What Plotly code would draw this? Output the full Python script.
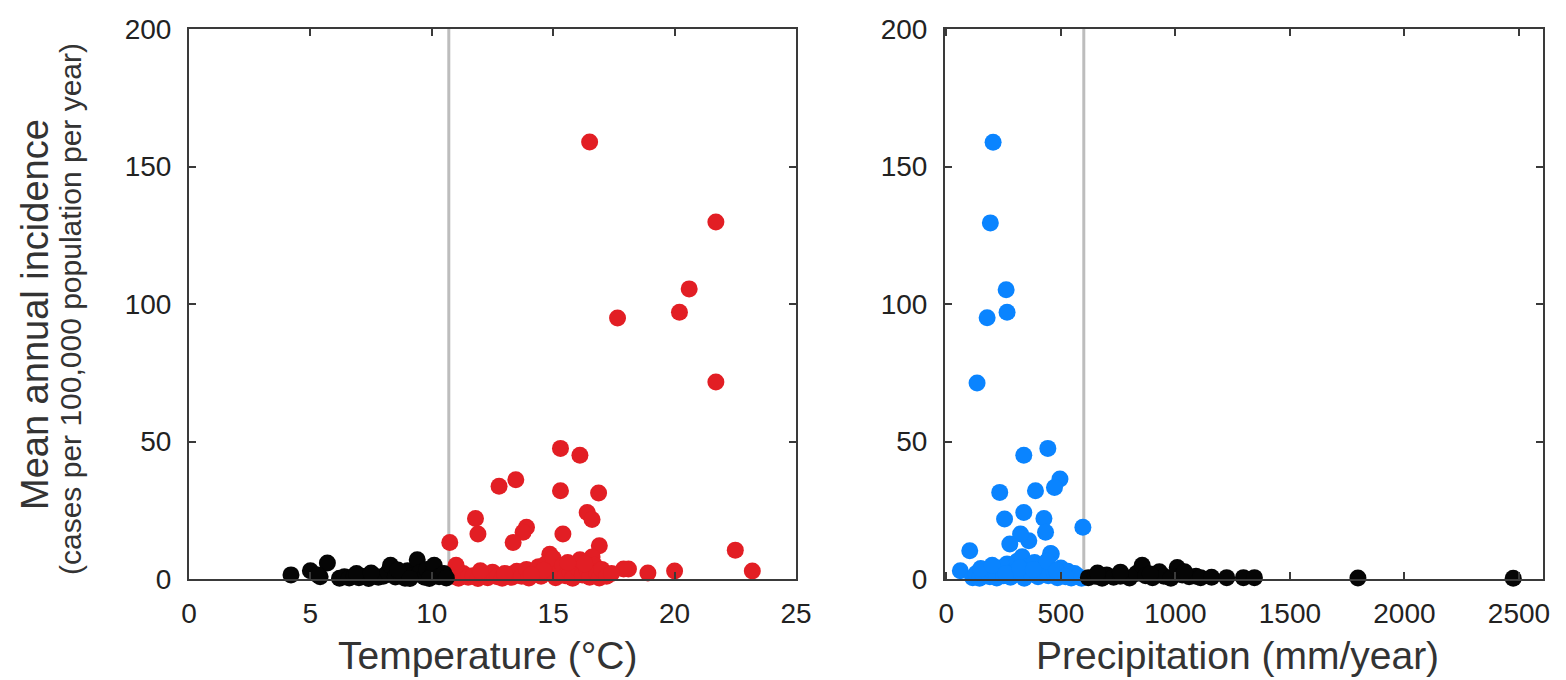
import plotly.graph_objects as go

# ---------------- data ----------------
# Left panel: temperature (°C) vs incidence
temp_cold = [4.2, 5.0, 5.4, 5.7, 5.3, 6.2, 6.4, 6.6, 6.8, 7.0, 7.2, 7.4, 7.6, 7.8, 8.0,
             8.2, 8.3, 8.5, 8.7, 8.9, 9.0, 9.2, 9.4, 9.5, 9.7, 9.8, 10.0, 10.1, 10.3,
             10.5, 10.6, 6.9, 7.5, 8.6, 9.1, 9.9]
inc_cold = [1.5, 3.0, 0.8, 5.8, 1.5, 0.3, 0.8, 0.4, 1.2, 0.5, 0.9, 0.2, 1.4, 0.6, 1.0,
            2.5, 5.0, 0.7, 1.8, 0.3, 3.0, 1.2, 7.0, 2.2, 0.6, 3.5, 1.5, 5.0, 0.8,
            2.0, 0.4, 2.0, 2.2, 3.3, 0.2, 0.2]

temp_warm = [16.5, 21.7, 20.6, 20.2, 17.65, 21.7, 15.3, 16.1, 13.46, 12.77, 15.3, 16.87,
             16.4, 16.6, 11.8, 11.9, 13.9, 13.76, 15.4, 10.74, 13.35, 16.9, 22.5, 14.86,
             23.2, 20.0, 18.9, 18.1, 17.9,
             10.9, 11.1, 11.3, 11.5, 11.7, 11.9, 12.1, 12.3, 12.5, 12.7, 12.9, 13.1, 13.3,
             13.5, 13.7, 13.9, 14.0, 14.2, 14.4, 14.5, 14.7, 14.9, 15.0, 15.1, 15.3, 15.4,
             15.5, 15.7, 15.8, 16.0, 16.1, 16.2, 16.4, 16.5, 16.6, 16.7, 16.8, 16.9, 17.0,
             17.2, 17.4, 12.0, 14.6, 15.6, 16.3, 11.0, 13.0, 14.1]
inc_warm = [158.9, 129.8, 105.5, 97.0, 94.9, 71.6, 47.5, 45.0, 36.1, 33.7, 32.1, 31.3,
            24.2, 21.6, 22.0, 16.4, 18.8, 17.0, 16.4, 13.3, 13.3, 12.1, 10.5, 9.0,
            2.9, 2.9, 2.2, 3.6, 3.6,
            1.0, 0.3, 2.0, 0.6, 1.2, 0.2, 1.5, 0.5, 2.5, 0.8, 0.3, 1.8, 0.6,
            2.8, 1.0, 3.5, 0.4, 2.2, 4.5, 1.0, 5.5, 2.0, 7.5, 0.5, 3.0, 5.0,
            1.2, 2.5, 0.3, 4.0, 7.0, 1.5, 3.0, 0.6, 8.0, 5.0, 2.0, 0.4, 3.5,
            1.0, 2.0, 3.0, 3.2, 6.0, 5.5, 5.0, 2.0, 1.5]

# Right panel: precipitation (mm/year) vs incidence
prec_dry = [204, 192, 261, 265, 178, 134, 443, 338, 496, 472, 233, 389, 338, 254, 426,
            433, 596, 360, 324, 277, 102, 458, 61,
            115, 130, 145, 160, 175, 190, 205, 220, 235, 250, 265, 280, 295, 310, 325,
            331, 340, 355, 370, 385, 400, 415, 430, 445, 455, 470, 485, 500, 515, 530,
            545, 560, 575, 590, 150, 200, 260, 320, 380, 440, 480, 520]
inc_dry = [158.8, 129.5, 105.2, 97.0, 95.0, 71.3, 47.5, 45.0, 36.4, 33.3, 31.5, 32.1,
           24.2, 21.8, 22.0, 17.0, 18.8, 13.9, 16.4, 12.7, 10.3, 9.1, 3.0,
           0.5, 2.0, 0.3, 1.5, 3.5, 0.8, 2.5, 0.4, 4.0, 1.2, 5.5, 0.6, 3.0, 6.5, 1.8,
           8.1, 0.3, 4.5, 2.0, 6.0, 0.8, 3.0, 5.0, 1.2, 9.3, 2.5, 0.5, 4.0, 1.5, 2.8,
           0.4, 2.0, 1.0, 0.3, 3.8, 5.0, 2.0, 4.0, 3.5, 6.5, 3.0, 0.8]

prec_wet = [620, 650, 680, 700, 730, 760, 800, 830, 855, 870, 900, 930, 950, 980, 1008,
            1030, 1060, 1090, 1110, 1158, 1224, 1297, 1345, 1797, 2475, 660, 760, 1040, 890]
inc_wet = [0.5, 1.0, 0.3, 1.5, 0.6, 1.0, 0.4, 2.0, 5.0, 1.2, 0.5, 2.6, 1.0, 0.3, 4.2,
           1.5, 0.8, 1.0, 0.5, 0.6, 0.5, 0.5, 0.5, 0.4, 0.3, 2.2, 2.5, 2.6, 1.8]

temp_threshold = [10.7]
prec_threshold = [600]

x_ticks_temp = [0, 5, 10, 15, 20, 25]
x_ticks_prec = [0, 500, 1000, 1500, 2000, 2500]
y_ticks = [0, 50, 100, 150, 200]

# ---------------- figure ----------------
RED = "#e21e24"
BLUE = "#0a84ff"
BLACK = "#050505"
FONT = "Liberation Sans, Arial, sans-serif"
AX = "#3a3a3a"
MS = 17

fig = go.Figure()
fig.add_trace(go.Scatter(x=temp_warm, y=inc_warm, mode="markers", xaxis="x", yaxis="y",
                         marker=dict(color=RED, size=MS, line=dict(width=0)),
                         cliponaxis=False, showlegend=False))
fig.add_trace(go.Scatter(x=temp_cold, y=inc_cold, mode="markers", xaxis="x", yaxis="y",
                         marker=dict(color=BLACK, size=MS, line=dict(width=0)),
                         cliponaxis=False, showlegend=False))
fig.add_trace(go.Scatter(x=prec_dry, y=inc_dry, mode="markers", xaxis="x2", yaxis="y2",
                         marker=dict(color=BLUE, size=MS, line=dict(width=0)),
                         cliponaxis=False, showlegend=False))
fig.add_trace(go.Scatter(x=prec_wet, y=inc_wet, mode="markers", xaxis="x2", yaxis="y2",
                         marker=dict(color=BLACK, size=MS, line=dict(width=0)),
                         cliponaxis=False, showlegend=False))

W, H = 1566, 680
ydom = [(H - 579) / H, (H - 29) / H]

common_axis = dict(showline=True, linecolor=AX, linewidth=2, mirror="ticks",
                   ticks="inside", ticklen=7, tickwidth=2, tickcolor=AX,
                   showgrid=False, zeroline=False, automargin=False,
                   tickfont=dict(family=FONT, size=28, color="#222222"))

fig.update_layout(
    width=W, height=H,
    margin=dict(l=0, r=0, t=0, b=0, autoexpand=False),
    paper_bgcolor="white", plot_bgcolor="white",
    xaxis=dict(domain=[189 / W, 796 / W], range=[0, 25], tickvals=x_ticks_temp,
               anchor="y", ticklabelstandoff=8, **common_axis),
    yaxis=dict(domain=ydom, range=[0, 200], tickvals=y_ticks, anchor="x",
               ticklabelstandoff=10, **common_axis),
    xaxis2=dict(domain=[945 / W, 1543 / W], range=[-6, 2605], tickvals=x_ticks_prec,
                anchor="y2", ticklabelstandoff=8, **common_axis),
    yaxis2=dict(domain=ydom, range=[0, 200], tickvals=y_ticks, anchor="x2",
                ticklabelstandoff=10, **common_axis),
    shapes=[
        dict(type="line", xref="x", yref="y domain", x0=temp_threshold[0], x1=temp_threshold[0],
             y0=0, y1=1, line=dict(color="#bdbdbd", width=3), layer="below"),
        dict(type="line", xref="x2", yref="y2 domain", x0=prec_threshold[0], x1=prec_threshold[0],
             y0=0, y1=1, line=dict(color="#bdbdbd", width=3), layer="below"),
    ],
    annotations=[
        dict(text="Temperature (°C)", xref="paper", yref="paper", x=488 / W, y=(H - 655) / H,
             showarrow=False, xanchor="center", yanchor="middle",
             font=dict(family=FONT, size=39, color="#333333")),
        dict(text="Precipitation (mm/year)", xref="paper", yref="paper", x=1237 / W, y=(H - 655) / H,
             showarrow=False, xanchor="center", yanchor="middle",
             font=dict(family=FONT, size=39, color="#333333")),
        dict(text="Mean annual incidence", xref="paper", yref="paper", x=35 / W, y=(H - 315) / H,
             showarrow=False, xanchor="center", yanchor="middle", textangle=-90,
             font=dict(family=FONT, size=38, color="#333333")),
        dict(text="(cases per 100,000 population per year)", xref="paper", yref="paper",
             x=70 / W, y=(H - 309) / H,
             showarrow=False, xanchor="center", yanchor="middle", textangle=-90,
             font=dict(family=FONT, size=30, color="#333333")),
    ],
)

fig.write_html("out.html", config={"displayModeBar": False},
               post_script="document.body.style.margin='0';")
